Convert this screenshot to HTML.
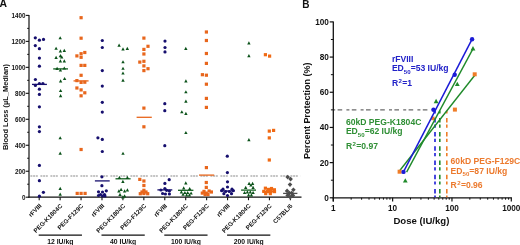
<!DOCTYPE html>
<html><head><meta charset="utf-8"><title>Figure</title><style>
html,body{margin:0;padding:0;background:#fff;}
body{width:520px;height:245px;overflow:hidden;}
svg{display:block;}
#w{will-change:transform;width:520px;height:245px;}
text{font-family:"Liberation Sans", sans-serif;font-weight:bold;}
.ta{font-size:6.3px;fill:#111;}
.tl{font-size:6.2px;fill:#111;}
.tg{font-size:6.8px;fill:#111;}
.yt{font-size:7.45px;fill:#111;}
.pl{font-size:10.4px;fill:#111;}
.tb{font-size:8.2px;fill:#111;}
.xt{font-size:9.0px;fill:#111;}
.xd{font-size:9.6px;fill:#111;}
.an{font-size:8.6px;}
.sub{font-size:6.1px;}
</style></head>
<body><div id="w"><svg width="520" height="245" viewBox="0 0 520 245">
<rect width="520" height="245" fill="#fff"/>
<line x1="29.0" y1="14.90" x2="29.0" y2="197.70" stroke="#111" stroke-width="1.2"/>
<line x1="28.4" y1="197.2" x2="301.5" y2="197.2" stroke="#111" stroke-width="1.2"/>
<line x1="25.8" y1="197.20" x2="29.0" y2="197.20" stroke="#111" stroke-width="1.1"/>
<text x="25.6" y="199.90" class="ta" text-anchor="end">0</text>
<line x1="27.2" y1="184.21" x2="29.0" y2="184.21" stroke="#111" stroke-width="1.0"/>
<line x1="25.8" y1="171.23" x2="29.0" y2="171.23" stroke="#111" stroke-width="1.1"/>
<text x="25.6" y="173.93" class="ta" text-anchor="end">200</text>
<line x1="27.2" y1="158.24" x2="29.0" y2="158.24" stroke="#111" stroke-width="1.0"/>
<line x1="25.8" y1="145.26" x2="29.0" y2="145.26" stroke="#111" stroke-width="1.1"/>
<text x="25.6" y="147.96" class="ta" text-anchor="end">400</text>
<line x1="27.2" y1="132.27" x2="29.0" y2="132.27" stroke="#111" stroke-width="1.0"/>
<line x1="25.8" y1="119.29" x2="29.0" y2="119.29" stroke="#111" stroke-width="1.1"/>
<text x="25.6" y="121.99" class="ta" text-anchor="end">600</text>
<line x1="27.2" y1="106.30" x2="29.0" y2="106.30" stroke="#111" stroke-width="1.0"/>
<line x1="25.8" y1="93.31" x2="29.0" y2="93.31" stroke="#111" stroke-width="1.1"/>
<text x="25.6" y="96.01" class="ta" text-anchor="end">800</text>
<line x1="27.2" y1="80.33" x2="29.0" y2="80.33" stroke="#111" stroke-width="1.0"/>
<line x1="25.8" y1="67.34" x2="29.0" y2="67.34" stroke="#111" stroke-width="1.1"/>
<text x="25.6" y="70.04" class="ta" text-anchor="end">1000</text>
<line x1="27.2" y1="54.36" x2="29.0" y2="54.36" stroke="#111" stroke-width="1.0"/>
<line x1="25.8" y1="41.37" x2="29.0" y2="41.37" stroke="#111" stroke-width="1.1"/>
<text x="25.6" y="44.07" class="ta" text-anchor="end">1200</text>
<line x1="27.2" y1="28.39" x2="29.0" y2="28.39" stroke="#111" stroke-width="1.0"/>
<line x1="25.8" y1="15.40" x2="29.0" y2="15.40" stroke="#111" stroke-width="1.1"/>
<text x="25.6" y="18.10" class="ta" text-anchor="end">1400</text>
<line x1="39.20" y1="197.2" x2="39.20" y2="200.2" stroke="#111" stroke-width="1.1"/>
<line x1="60.13" y1="197.2" x2="60.13" y2="200.2" stroke="#111" stroke-width="1.1"/>
<line x1="81.06" y1="197.2" x2="81.06" y2="200.2" stroke="#111" stroke-width="1.1"/>
<line x1="101.99" y1="197.2" x2="101.99" y2="200.2" stroke="#111" stroke-width="1.1"/>
<line x1="122.92" y1="197.2" x2="122.92" y2="200.2" stroke="#111" stroke-width="1.1"/>
<line x1="143.85" y1="197.2" x2="143.85" y2="200.2" stroke="#111" stroke-width="1.1"/>
<line x1="164.78" y1="197.2" x2="164.78" y2="200.2" stroke="#111" stroke-width="1.1"/>
<line x1="185.71" y1="197.2" x2="185.71" y2="200.2" stroke="#111" stroke-width="1.1"/>
<line x1="206.64" y1="197.2" x2="206.64" y2="200.2" stroke="#111" stroke-width="1.1"/>
<line x1="227.57" y1="197.2" x2="227.57" y2="200.2" stroke="#111" stroke-width="1.1"/>
<line x1="248.50" y1="197.2" x2="248.50" y2="200.2" stroke="#111" stroke-width="1.1"/>
<line x1="269.43" y1="197.2" x2="269.43" y2="200.2" stroke="#111" stroke-width="1.1"/>
<line x1="290.36" y1="197.2" x2="290.36" y2="200.2" stroke="#111" stroke-width="1.1"/>
<line x1="30.4" y1="176.0" x2="300.5" y2="176.0" stroke="#8a8a8a" stroke-width="1.1" stroke-dasharray="2 0.7 2 0.7 2 2.6"/>
<line x1="32.00" y1="84.40" x2="46.90" y2="84.40" stroke="#160f6e" stroke-width="1.3"/>
<circle cx="35.30" cy="37.80" r="1.6" fill="#160f6e"/>
<circle cx="39.40" cy="40.20" r="1.6" fill="#160f6e"/>
<circle cx="43.50" cy="39.40" r="1.6" fill="#160f6e"/>
<circle cx="35.30" cy="45.60" r="1.6" fill="#160f6e"/>
<circle cx="39.40" cy="48.70" r="1.6" fill="#160f6e"/>
<circle cx="39.40" cy="58.10" r="1.6" fill="#160f6e"/>
<circle cx="39.40" cy="66.20" r="1.6" fill="#160f6e"/>
<circle cx="35.40" cy="79.50" r="1.6" fill="#160f6e"/>
<circle cx="35.40" cy="85.40" r="1.6" fill="#160f6e"/>
<circle cx="39.40" cy="83.50" r="1.6" fill="#160f6e"/>
<circle cx="42.90" cy="83.50" r="1.6" fill="#160f6e"/>
<circle cx="39.40" cy="89.20" r="1.6" fill="#160f6e"/>
<circle cx="39.40" cy="94.40" r="1.6" fill="#160f6e"/>
<circle cx="39.40" cy="106.80" r="1.6" fill="#160f6e"/>
<circle cx="39.40" cy="126.80" r="1.6" fill="#160f6e"/>
<circle cx="39.40" cy="131.60" r="1.6" fill="#160f6e"/>
<circle cx="39.40" cy="165.40" r="1.6" fill="#160f6e"/>
<circle cx="39.40" cy="180.70" r="1.6" fill="#160f6e"/>
<circle cx="43.40" cy="192.30" r="1.6" fill="#160f6e"/>
<circle cx="39.40" cy="196.20" r="1.6" fill="#160f6e"/>
<line x1="53.20" y1="68.90" x2="68.00" y2="68.90" stroke="#12601f" stroke-width="1.3"/>
<path d="M60.20 36.17L61.90 39.30L58.50 39.30Z" fill="#0b521a"/>
<path d="M56.10 46.67L57.80 49.80L54.40 49.80Z" fill="#0b521a"/>
<path d="M60.40 49.27L62.10 52.40L58.70 52.40Z" fill="#0b521a"/>
<path d="M64.30 48.87L66.00 52.00L62.60 52.00Z" fill="#0b521a"/>
<path d="M56.10 55.77L57.80 58.90L54.40 58.90Z" fill="#0b521a"/>
<path d="M60.40 54.07L62.10 57.20L58.70 57.20Z" fill="#0b521a"/>
<path d="M61.70 55.37L63.40 58.50L60.00 58.50Z" fill="#0b521a"/>
<path d="M60.40 59.27L62.10 62.40L58.70 62.40Z" fill="#0b521a"/>
<path d="M64.30 59.27L66.00 62.40L62.60 62.40Z" fill="#0b521a"/>
<path d="M57.10 66.87L58.80 70.00L55.40 70.00Z" fill="#0b521a"/>
<path d="M60.40 68.47L62.10 71.60L58.70 71.60Z" fill="#0b521a"/>
<path d="M64.30 66.47L66.00 69.60L62.60 69.60Z" fill="#0b521a"/>
<path d="M60.60 79.27L62.30 82.40L58.90 82.40Z" fill="#0b521a"/>
<path d="M64.60 76.97L66.30 80.10L62.90 80.10Z" fill="#0b521a"/>
<path d="M60.60 88.97L62.30 92.10L58.90 92.10Z" fill="#0b521a"/>
<path d="M60.60 94.07L62.30 97.20L58.90 97.20Z" fill="#0b521a"/>
<path d="M60.20 136.17L61.90 139.30L58.50 139.30Z" fill="#0b521a"/>
<path d="M60.20 151.57L61.90 154.70L58.50 154.70Z" fill="#0b521a"/>
<path d="M60.20 186.87L61.90 190.00L58.50 190.00Z" fill="#0b521a"/>
<path d="M60.20 192.57L61.90 195.70L58.50 195.70Z" fill="#0b521a"/>
<line x1="73.50" y1="80.90" x2="88.60" y2="80.90" stroke="#e8661c" stroke-width="1.3"/>
<rect x="79.50" y="16.10" width="3.2" height="3.2" fill="#e8661c"/>
<rect x="79.50" y="36.60" width="3.2" height="3.2" fill="#e8661c"/>
<rect x="83.20" y="50.90" width="3.2" height="3.2" fill="#e8661c"/>
<rect x="79.50" y="52.10" width="3.2" height="3.2" fill="#e8661c"/>
<rect x="75.30" y="54.30" width="3.2" height="3.2" fill="#e8661c"/>
<rect x="79.50" y="55.70" width="3.2" height="3.2" fill="#e8661c"/>
<rect x="79.50" y="63.80" width="3.2" height="3.2" fill="#e8661c"/>
<rect x="83.20" y="63.80" width="3.2" height="3.2" fill="#e8661c"/>
<rect x="79.50" y="73.70" width="3.2" height="3.2" fill="#e8661c"/>
<rect x="75.30" y="79.00" width="3.2" height="3.2" fill="#e8661c"/>
<rect x="79.50" y="80.80" width="3.2" height="3.2" fill="#e8661c"/>
<rect x="83.20" y="80.60" width="3.2" height="3.2" fill="#e8661c"/>
<rect x="75.30" y="86.40" width="3.2" height="3.2" fill="#e8661c"/>
<rect x="79.50" y="88.30" width="3.2" height="3.2" fill="#e8661c"/>
<rect x="83.20" y="91.20" width="3.2" height="3.2" fill="#e8661c"/>
<rect x="79.50" y="94.20" width="3.2" height="3.2" fill="#e8661c"/>
<rect x="79.50" y="147.90" width="3.2" height="3.2" fill="#e8661c"/>
<rect x="75.60" y="191.80" width="3.2" height="3.2" fill="#e8661c"/>
<rect x="79.50" y="191.80" width="3.2" height="3.2" fill="#e8661c"/>
<rect x="83.50" y="191.80" width="3.2" height="3.2" fill="#e8661c"/>
<line x1="94.90" y1="180.90" x2="109.70" y2="180.90" stroke="#160f6e" stroke-width="1.3"/>
<circle cx="102.30" cy="40.50" r="1.6" fill="#160f6e"/>
<circle cx="102.30" cy="47.50" r="1.6" fill="#160f6e"/>
<circle cx="102.30" cy="70.60" r="1.6" fill="#160f6e"/>
<circle cx="102.30" cy="86.10" r="1.6" fill="#160f6e"/>
<circle cx="102.30" cy="102.30" r="1.6" fill="#160f6e"/>
<circle cx="102.30" cy="112.10" r="1.6" fill="#160f6e"/>
<circle cx="97.90" cy="137.80" r="1.6" fill="#160f6e"/>
<circle cx="102.30" cy="139.40" r="1.6" fill="#160f6e"/>
<circle cx="102.30" cy="151.50" r="1.6" fill="#160f6e"/>
<circle cx="101.90" cy="176.80" r="1.6" fill="#160f6e"/>
<circle cx="101.90" cy="185.70" r="1.6" fill="#160f6e"/>
<circle cx="98.50" cy="191.80" r="1.6" fill="#160f6e"/>
<circle cx="100.50" cy="194.50" r="1.6" fill="#160f6e"/>
<circle cx="102.50" cy="192.00" r="1.6" fill="#160f6e"/>
<circle cx="104.50" cy="194.50" r="1.6" fill="#160f6e"/>
<circle cx="106.30" cy="190.80" r="1.6" fill="#160f6e"/>
<circle cx="98.50" cy="195.50" r="1.6" fill="#160f6e"/>
<circle cx="102.50" cy="196.00" r="1.6" fill="#160f6e"/>
<circle cx="105.00" cy="196.00" r="1.6" fill="#160f6e"/>
<line x1="115.50" y1="178.80" x2="130.60" y2="178.80" stroke="#12601f" stroke-width="1.3"/>
<path d="M119.10 43.57L120.80 46.70L117.40 46.70Z" fill="#0b521a"/>
<path d="M123.00 47.27L124.70 50.40L121.30 50.40Z" fill="#0b521a"/>
<path d="M127.30 46.87L129.00 50.00L125.60 50.00Z" fill="#0b521a"/>
<path d="M123.00 60.17L124.70 63.30L121.30 63.30Z" fill="#0b521a"/>
<path d="M123.00 66.67L124.70 69.80L121.30 69.80Z" fill="#0b521a"/>
<path d="M123.00 71.47L124.70 74.60L121.30 74.60Z" fill="#0b521a"/>
<path d="M123.00 78.57L124.70 81.70L121.30 81.70Z" fill="#0b521a"/>
<path d="M123.00 151.67L124.70 154.80L121.30 154.80Z" fill="#0b521a"/>
<path d="M119.40 175.87L121.10 179.00L117.70 179.00Z" fill="#0b521a"/>
<path d="M127.40 175.87L129.10 179.00L125.70 179.00Z" fill="#0b521a"/>
<path d="M122.90 179.87L124.60 183.00L121.20 183.00Z" fill="#0b521a"/>
<path d="M118.90 189.27L120.60 192.40L117.20 192.40Z" fill="#0b521a"/>
<path d="M121.10 187.87L122.80 191.00L119.40 191.00Z" fill="#0b521a"/>
<path d="M124.60 189.37L126.30 192.50L122.90 192.50Z" fill="#0b521a"/>
<path d="M127.40 188.37L129.10 191.50L125.70 191.50Z" fill="#0b521a"/>
<path d="M120.00 192.87L121.70 196.00L118.30 196.00Z" fill="#0b521a"/>
<path d="M124.60 194.37L126.30 197.50L122.90 197.50Z" fill="#0b521a"/>
<path d="M122.90 195.37L124.60 198.50L121.20 198.50Z" fill="#0b521a"/>
<line x1="136.60" y1="117.30" x2="151.80" y2="117.30" stroke="#e8661c" stroke-width="1.3"/>
<rect x="142.30" y="36.50" width="3.2" height="3.2" fill="#e8661c"/>
<rect x="146.40" y="44.70" width="3.2" height="3.2" fill="#e8661c"/>
<rect x="142.30" y="47.80" width="3.2" height="3.2" fill="#e8661c"/>
<rect x="142.30" y="52.40" width="3.2" height="3.2" fill="#e8661c"/>
<rect x="138.20" y="60.50" width="3.2" height="3.2" fill="#e8661c"/>
<rect x="142.30" y="59.70" width="3.2" height="3.2" fill="#e8661c"/>
<rect x="142.30" y="64.30" width="3.2" height="3.2" fill="#e8661c"/>
<rect x="146.40" y="67.10" width="3.2" height="3.2" fill="#e8661c"/>
<rect x="142.30" y="69.00" width="3.2" height="3.2" fill="#e8661c"/>
<rect x="142.30" y="106.50" width="3.2" height="3.2" fill="#e8661c"/>
<rect x="142.30" y="125.20" width="3.2" height="3.2" fill="#e8661c"/>
<rect x="138.20" y="177.80" width="3.2" height="3.2" fill="#e8661c"/>
<rect x="142.30" y="179.40" width="3.2" height="3.2" fill="#e8661c"/>
<rect x="142.30" y="183.90" width="3.2" height="3.2" fill="#e8661c"/>
<rect x="142.30" y="188.70" width="3.2" height="3.2" fill="#e8661c"/>
<rect x="140.40" y="190.40" width="3.2" height="3.2" fill="#e8661c"/>
<rect x="144.40" y="190.40" width="3.2" height="3.2" fill="#e8661c"/>
<rect x="138.70" y="192.10" width="3.2" height="3.2" fill="#e8661c"/>
<rect x="146.10" y="192.10" width="3.2" height="3.2" fill="#e8661c"/>
<rect x="142.30" y="191.90" width="3.2" height="3.2" fill="#e8661c"/>
<line x1="157.40" y1="189.90" x2="172.30" y2="189.90" stroke="#160f6e" stroke-width="1.3"/>
<circle cx="165.00" cy="41.10" r="1.6" fill="#160f6e"/>
<circle cx="165.00" cy="47.50" r="1.6" fill="#160f6e"/>
<circle cx="165.00" cy="51.90" r="1.6" fill="#160f6e"/>
<circle cx="164.80" cy="103.70" r="1.6" fill="#160f6e"/>
<circle cx="164.80" cy="110.70" r="1.6" fill="#160f6e"/>
<circle cx="164.80" cy="145.70" r="1.6" fill="#160f6e"/>
<circle cx="169.20" cy="179.70" r="1.6" fill="#160f6e"/>
<circle cx="164.90" cy="183.40" r="1.6" fill="#160f6e"/>
<circle cx="164.90" cy="188.60" r="1.6" fill="#160f6e"/>
<circle cx="160.90" cy="190.00" r="1.6" fill="#160f6e"/>
<circle cx="166.60" cy="190.30" r="1.6" fill="#160f6e"/>
<circle cx="169.40" cy="191.00" r="1.6" fill="#160f6e"/>
<circle cx="162.60" cy="193.50" r="1.6" fill="#160f6e"/>
<circle cx="165.40" cy="194.00" r="1.6" fill="#160f6e"/>
<circle cx="169.40" cy="194.00" r="1.6" fill="#160f6e"/>
<line x1="178.00" y1="190.30" x2="193.40" y2="190.30" stroke="#12601f" stroke-width="1.3"/>
<path d="M185.80 46.87L187.50 50.00L184.10 50.00Z" fill="#0b521a"/>
<path d="M185.90 79.27L187.60 82.40L184.20 82.40Z" fill="#0b521a"/>
<path d="M185.90 90.17L187.60 93.30L184.20 93.30Z" fill="#0b521a"/>
<path d="M185.90 99.57L187.60 102.70L184.20 102.70Z" fill="#0b521a"/>
<path d="M181.80 110.17L183.50 113.30L180.10 113.30Z" fill="#0b521a"/>
<path d="M185.90 111.87L187.60 115.00L184.20 115.00Z" fill="#0b521a"/>
<path d="M185.90 130.97L187.60 134.10L184.20 134.10Z" fill="#0b521a"/>
<path d="M185.80 181.27L187.50 184.40L184.10 184.40Z" fill="#0b521a"/>
<path d="M183.70 186.37L185.40 189.50L182.00 189.50Z" fill="#0b521a"/>
<path d="M189.70 186.97L191.40 190.10L188.00 190.10Z" fill="#0b521a"/>
<path d="M181.40 190.37L183.10 193.50L179.70 193.50Z" fill="#0b521a"/>
<path d="M184.90 190.97L186.60 194.10L183.20 194.10Z" fill="#0b521a"/>
<path d="M187.70 190.97L189.40 194.10L186.00 194.10Z" fill="#0b521a"/>
<path d="M191.10 191.47L192.80 194.60L189.40 194.60Z" fill="#0b521a"/>
<path d="M183.10 192.67L184.80 195.80L181.40 195.80Z" fill="#0b521a"/>
<path d="M186.60 193.27L188.30 196.40L184.90 196.40Z" fill="#0b521a"/>
<path d="M189.40 193.27L191.10 196.40L187.70 196.40Z" fill="#0b521a"/>
<line x1="199.00" y1="175.10" x2="214.20" y2="175.10" stroke="#e8661c" stroke-width="1.3"/>
<rect x="204.80" y="30.40" width="3.2" height="3.2" fill="#e8661c"/>
<rect x="204.80" y="38.90" width="3.2" height="3.2" fill="#e8661c"/>
<rect x="204.80" y="51.90" width="3.2" height="3.2" fill="#e8661c"/>
<rect x="204.80" y="61.80" width="3.2" height="3.2" fill="#e8661c"/>
<rect x="200.80" y="73.10" width="3.2" height="3.2" fill="#e8661c"/>
<rect x="204.80" y="73.60" width="3.2" height="3.2" fill="#e8661c"/>
<rect x="204.80" y="82.60" width="3.2" height="3.2" fill="#e8661c"/>
<rect x="204.80" y="96.80" width="3.2" height="3.2" fill="#e8661c"/>
<rect x="204.80" y="105.80" width="3.2" height="3.2" fill="#e8661c"/>
<rect x="204.80" y="166.00" width="3.2" height="3.2" fill="#e8661c"/>
<rect x="204.70" y="180.90" width="3.2" height="3.2" fill="#e8661c"/>
<rect x="204.70" y="185.80" width="3.2" height="3.2" fill="#e8661c"/>
<rect x="202.40" y="189.80" width="3.2" height="3.2" fill="#e8661c"/>
<rect x="207.50" y="189.40" width="3.2" height="3.2" fill="#e8661c"/>
<rect x="200.70" y="191.50" width="3.2" height="3.2" fill="#e8661c"/>
<rect x="209.80" y="190.40" width="3.2" height="3.2" fill="#e8661c"/>
<rect x="204.70" y="191.50" width="3.2" height="3.2" fill="#e8661c"/>
<rect x="203.50" y="192.90" width="3.2" height="3.2" fill="#e8661c"/>
<rect x="206.40" y="192.90" width="3.2" height="3.2" fill="#e8661c"/>
<line x1="220.70" y1="191.00" x2="234.60" y2="191.00" stroke="#160f6e" stroke-width="1.3"/>
<circle cx="227.30" cy="156.20" r="1.6" fill="#160f6e"/>
<circle cx="227.40" cy="172.60" r="1.6" fill="#160f6e"/>
<circle cx="227.50" cy="181.80" r="1.6" fill="#160f6e"/>
<circle cx="227.50" cy="187.00" r="1.6" fill="#160f6e"/>
<circle cx="223.00" cy="189.20" r="1.6" fill="#160f6e"/>
<circle cx="232.00" cy="189.20" r="1.6" fill="#160f6e"/>
<circle cx="221.60" cy="190.60" r="1.6" fill="#160f6e"/>
<circle cx="233.30" cy="190.60" r="1.6" fill="#160f6e"/>
<circle cx="225.70" cy="191.50" r="1.6" fill="#160f6e"/>
<circle cx="229.30" cy="191.50" r="1.6" fill="#160f6e"/>
<circle cx="223.90" cy="193.70" r="1.6" fill="#160f6e"/>
<circle cx="231.50" cy="193.70" r="1.6" fill="#160f6e"/>
<circle cx="227.50" cy="195.50" r="1.6" fill="#160f6e"/>
<line x1="241.10" y1="190.10" x2="256.00" y2="190.10" stroke="#12601f" stroke-width="1.3"/>
<path d="M248.90 41.27L250.60 44.40L247.20 44.40Z" fill="#0b521a"/>
<path d="M248.90 54.07L250.60 57.20L247.20 57.20Z" fill="#0b521a"/>
<path d="M248.90 138.07L250.60 141.20L247.20 141.20Z" fill="#0b521a"/>
<path d="M249.10 181.77L250.80 184.90L247.40 184.90Z" fill="#0b521a"/>
<path d="M252.60 181.77L254.30 184.90L250.90 184.90Z" fill="#0b521a"/>
<path d="M250.90 183.47L252.60 186.60L249.20 186.60Z" fill="#0b521a"/>
<path d="M245.70 185.77L247.40 188.90L244.00 188.90Z" fill="#0b521a"/>
<path d="M253.10 185.77L254.80 188.90L251.40 188.90Z" fill="#0b521a"/>
<path d="M244.60 190.97L246.30 194.10L242.90 194.10Z" fill="#0b521a"/>
<path d="M247.40 190.37L249.10 193.50L245.70 193.50Z" fill="#0b521a"/>
<path d="M250.30 190.37L252.00 193.50L248.60 193.50Z" fill="#0b521a"/>
<path d="M253.10 190.97L254.80 194.10L251.40 194.10Z" fill="#0b521a"/>
<path d="M248.60 193.37L250.30 196.50L246.90 196.50Z" fill="#0b521a"/>
<path d="M251.40 193.37L253.10 196.50L249.70 196.50Z" fill="#0b521a"/>
<line x1="262.50" y1="191.40" x2="276.00" y2="191.40" stroke="#e8661c" stroke-width="1.3"/>
<rect x="263.80" y="53.10" width="3.2" height="3.2" fill="#f06a14"/>
<rect x="268.00" y="54.50" width="3.2" height="3.2" fill="#f06a14"/>
<rect x="267.70" y="129.50" width="3.2" height="3.2" fill="#f06a14"/>
<rect x="272.00" y="128.80" width="3.2" height="3.2" fill="#f06a14"/>
<rect x="267.70" y="136.30" width="3.2" height="3.2" fill="#f06a14"/>
<rect x="267.70" y="158.40" width="3.2" height="3.2" fill="#f06a14"/>
<rect x="263.80" y="186.60" width="3.2" height="3.2" fill="#f06a14"/>
<rect x="267.00" y="187.80" width="3.2" height="3.2" fill="#f06a14"/>
<rect x="269.90" y="186.90" width="3.2" height="3.2" fill="#f06a14"/>
<rect x="272.80" y="188.20" width="3.2" height="3.2" fill="#f06a14"/>
<rect x="262.20" y="189.80" width="3.2" height="3.2" fill="#f06a14"/>
<rect x="265.90" y="190.00" width="3.2" height="3.2" fill="#f06a14"/>
<rect x="269.40" y="190.00" width="3.2" height="3.2" fill="#f06a14"/>
<rect x="272.90" y="190.00" width="3.2" height="3.2" fill="#f06a14"/>
<rect x="264.10" y="192.00" width="3.2" height="3.2" fill="#f06a14"/>
<rect x="268.70" y="192.00" width="3.2" height="3.2" fill="#f06a14"/>
<path d="M287.70 174.80L290.00 177.10L287.70 179.40L285.40 177.10Z" fill="#4d4d4d"/>
<path d="M290.60 176.80L292.90 179.10L290.60 181.40L288.30 179.10Z" fill="#4d4d4d"/>
<path d="M290.00 182.30L292.30 184.60L290.00 186.90L287.70 184.60Z" fill="#4d4d4d"/>
<path d="M287.10 188.60L289.40 190.90L287.10 193.20L284.80 190.90Z" fill="#4d4d4d"/>
<path d="M293.40 187.40L295.70 189.70L293.40 192.00L291.10 189.70Z" fill="#4d4d4d"/>
<path d="M289.40 190.80L291.70 193.10L289.40 195.40L287.10 193.10Z" fill="#4d4d4d"/>
<path d="M291.70 190.80L294.00 193.10L291.70 195.40L289.40 193.10Z" fill="#4d4d4d"/>
<path d="M287.70 193.10L290.00 195.40L287.70 197.70L285.40 195.40Z" fill="#4d4d4d"/>
<path d="M292.90 193.10L295.20 195.40L292.90 197.70L290.60 195.40Z" fill="#4d4d4d"/>
<path d="M290.30 194.80L292.60 197.10L290.30 199.40L288.00 197.10Z" fill="#4d4d4d"/>
<line x1="283.10" y1="193.40" x2="297.40" y2="193.40" stroke="#4d4d4d" stroke-width="1.3"/>
<text x="41.90" y="206.40" class="tl" text-anchor="end" transform="rotate(-45 41.90 206.40)">rFVIII</text>
<text x="62.83" y="206.40" class="tl" text-anchor="end" transform="rotate(-45 62.83 206.40)">PEG-K1804C</text>
<text x="83.76" y="206.40" class="tl" text-anchor="end" transform="rotate(-45 83.76 206.40)">PEG-F129C</text>
<text x="104.69" y="206.40" class="tl" text-anchor="end" transform="rotate(-45 104.69 206.40)">rFVIII</text>
<text x="125.62" y="206.40" class="tl" text-anchor="end" transform="rotate(-45 125.62 206.40)">PEG-K1804C</text>
<text x="146.55" y="206.40" class="tl" text-anchor="end" transform="rotate(-45 146.55 206.40)">PEG-F129C</text>
<text x="167.48" y="206.40" class="tl" text-anchor="end" transform="rotate(-45 167.48 206.40)">rFVIII</text>
<text x="188.41" y="206.40" class="tl" text-anchor="end" transform="rotate(-45 188.41 206.40)">PEG-K1804C</text>
<text x="209.34" y="206.40" class="tl" text-anchor="end" transform="rotate(-45 209.34 206.40)">PEG-F129C</text>
<text x="230.27" y="206.40" class="tl" text-anchor="end" transform="rotate(-45 230.27 206.40)">rFVIII</text>
<text x="251.20" y="206.40" class="tl" text-anchor="end" transform="rotate(-45 251.20 206.40)">PEG-K1804C</text>
<text x="272.13" y="206.40" class="tl" text-anchor="end" transform="rotate(-45 272.13 206.40)">PEG-F129C</text>
<text x="293.06" y="206.40" class="tl" text-anchor="end" transform="rotate(-45 293.06 206.40)">C57BL/6</text>
<line x1="38.70" y1="235.1" x2="81.96" y2="235.1" stroke="#111" stroke-width="1.1"/>
<text x="60.33" y="243.6" class="tg" text-anchor="middle">12 IU/kg</text>
<line x1="101.49" y1="235.1" x2="144.75" y2="235.1" stroke="#111" stroke-width="1.1"/>
<text x="123.12" y="243.6" class="tg" text-anchor="middle">40 IU/kg</text>
<line x1="164.28" y1="235.1" x2="207.54" y2="235.1" stroke="#111" stroke-width="1.1"/>
<text x="185.91" y="243.6" class="tg" text-anchor="middle">100 IU/kg</text>
<line x1="227.07" y1="235.1" x2="270.33" y2="235.1" stroke="#111" stroke-width="1.1"/>
<text x="248.70" y="243.6" class="tg" text-anchor="middle">200 IU/kg</text>
<text x="0" y="0" class="yt" text-anchor="middle" transform="translate(7.6 107.0) rotate(-90)">Blood Loss (&#181;L_Median)</text>
<text x="-0.4" y="6.8" class="pl">A</text>
<line x1="333.3" y1="21.40" x2="333.3" y2="201.40" stroke="#111" stroke-width="1.3"/>
<line x1="332.7" y1="197.8" x2="511.90" y2="197.8" stroke="#111" stroke-width="1.3"/>
<line x1="329.7" y1="197.80" x2="333.3" y2="197.80" stroke="#111" stroke-width="1.2"/>
<text x="328.90000000000003" y="200.70" class="tb" text-anchor="end">0</text>
<line x1="330.90000000000003" y1="180.21" x2="333.3" y2="180.21" stroke="#111" stroke-width="1.0"/>
<line x1="329.7" y1="162.62" x2="333.3" y2="162.62" stroke="#111" stroke-width="1.2"/>
<text x="328.90000000000003" y="165.52" class="tb" text-anchor="end">20</text>
<line x1="330.90000000000003" y1="145.03" x2="333.3" y2="145.03" stroke="#111" stroke-width="1.0"/>
<line x1="329.7" y1="127.44" x2="333.3" y2="127.44" stroke="#111" stroke-width="1.2"/>
<text x="328.90000000000003" y="130.34" class="tb" text-anchor="end">40</text>
<line x1="330.90000000000003" y1="109.85" x2="333.3" y2="109.85" stroke="#111" stroke-width="1.0"/>
<line x1="329.7" y1="92.26" x2="333.3" y2="92.26" stroke="#111" stroke-width="1.2"/>
<text x="328.90000000000003" y="95.16" class="tb" text-anchor="end">60</text>
<line x1="330.90000000000003" y1="74.67" x2="333.3" y2="74.67" stroke="#111" stroke-width="1.0"/>
<line x1="329.7" y1="57.08" x2="333.3" y2="57.08" stroke="#111" stroke-width="1.2"/>
<text x="328.90000000000003" y="59.98" class="tb" text-anchor="end">80</text>
<line x1="330.90000000000003" y1="39.49" x2="333.3" y2="39.49" stroke="#111" stroke-width="1.0"/>
<line x1="329.7" y1="21.90" x2="333.3" y2="21.90" stroke="#111" stroke-width="1.2"/>
<text x="328.90000000000003" y="24.80" class="tb" text-anchor="end">100</text>
<line x1="351.16" y1="197.8" x2="351.16" y2="199.70" stroke="#111" stroke-width="1.0"/>
<line x1="361.61" y1="197.8" x2="361.61" y2="199.70" stroke="#111" stroke-width="1.0"/>
<line x1="369.02" y1="197.8" x2="369.02" y2="199.70" stroke="#111" stroke-width="1.0"/>
<line x1="374.77" y1="197.8" x2="374.77" y2="199.70" stroke="#111" stroke-width="1.0"/>
<line x1="379.47" y1="197.8" x2="379.47" y2="199.70" stroke="#111" stroke-width="1.0"/>
<line x1="383.44" y1="197.8" x2="383.44" y2="199.70" stroke="#111" stroke-width="1.0"/>
<line x1="386.88" y1="197.8" x2="386.88" y2="199.70" stroke="#111" stroke-width="1.0"/>
<line x1="389.92" y1="197.8" x2="389.92" y2="199.70" stroke="#111" stroke-width="1.0"/>
<line x1="410.49" y1="197.8" x2="410.49" y2="199.70" stroke="#111" stroke-width="1.0"/>
<line x1="420.94" y1="197.8" x2="420.94" y2="199.70" stroke="#111" stroke-width="1.0"/>
<line x1="428.36" y1="197.8" x2="428.36" y2="199.70" stroke="#111" stroke-width="1.0"/>
<line x1="434.11" y1="197.8" x2="434.11" y2="199.70" stroke="#111" stroke-width="1.0"/>
<line x1="438.80" y1="197.8" x2="438.80" y2="199.70" stroke="#111" stroke-width="1.0"/>
<line x1="442.78" y1="197.8" x2="442.78" y2="199.70" stroke="#111" stroke-width="1.0"/>
<line x1="446.22" y1="197.8" x2="446.22" y2="199.70" stroke="#111" stroke-width="1.0"/>
<line x1="449.25" y1="197.8" x2="449.25" y2="199.70" stroke="#111" stroke-width="1.0"/>
<line x1="469.83" y1="197.8" x2="469.83" y2="199.70" stroke="#111" stroke-width="1.0"/>
<line x1="480.28" y1="197.8" x2="480.28" y2="199.70" stroke="#111" stroke-width="1.0"/>
<line x1="487.69" y1="197.8" x2="487.69" y2="199.70" stroke="#111" stroke-width="1.0"/>
<line x1="493.44" y1="197.8" x2="493.44" y2="199.70" stroke="#111" stroke-width="1.0"/>
<line x1="498.14" y1="197.8" x2="498.14" y2="199.70" stroke="#111" stroke-width="1.0"/>
<line x1="502.11" y1="197.8" x2="502.11" y2="199.70" stroke="#111" stroke-width="1.0"/>
<line x1="505.55" y1="197.8" x2="505.55" y2="199.70" stroke="#111" stroke-width="1.0"/>
<line x1="508.59" y1="197.8" x2="508.59" y2="199.70" stroke="#111" stroke-width="1.0"/>
<line x1="333.30" y1="197.8" x2="333.30" y2="201.40" stroke="#111" stroke-width="1.2"/>
<text x="333.30" y="210.6" class="tb" text-anchor="middle">1</text>
<line x1="392.63" y1="197.8" x2="392.63" y2="201.40" stroke="#111" stroke-width="1.2"/>
<text x="392.63" y="210.6" class="tb" text-anchor="middle">10</text>
<line x1="451.97" y1="197.8" x2="451.97" y2="201.40" stroke="#111" stroke-width="1.2"/>
<text x="451.97" y="210.6" class="tb" text-anchor="middle">100</text>
<line x1="511.30" y1="197.8" x2="511.30" y2="201.40" stroke="#111" stroke-width="1.2"/>
<text x="511.30" y="210.6" class="tb" text-anchor="middle">1000</text>
<text x="421.4" y="223.6" class="xd" text-anchor="middle">Dose (IU/kg)</text>
<text x="0" y="0" class="xt" text-anchor="middle" transform="translate(309.6 110.8) rotate(-90)">Percent Protection (%)</text>
<text x="302.2" y="7.8" class="pl" style="font-size:10px">B</text>
<line x1="334" y1="109.85" x2="433" y2="109.85" stroke="#6a6a6a" stroke-width="1.4" stroke-dasharray="4.6 4.2 3.0 2.4" stroke-dashoffset="10.6"/>
<line x1="435.0" y1="197.2" x2="435.0" y2="110.85" stroke="#1b1bd6" stroke-width="1.6" stroke-dasharray="4.5 4.3 3.2 2.2" stroke-dashoffset="10.4"/>
<line x1="439.8" y1="197.2" x2="439.8" y2="110.85" stroke="#1f8a2a" stroke-width="1.6" stroke-dasharray="4.5 4.3 3.2 2.2" stroke-dashoffset="10.4"/>
<line x1="446.8" y1="197.2" x2="446.8" y2="110.85" stroke="#ef7d28" stroke-width="1.6" stroke-dasharray="4.5 4.3 3.2 2.2" stroke-dashoffset="10.4"/>
<rect x="431.2" y="116.6" width="3.4" height="3.6" fill="#ef7d28"/>
<line x1="400.0" y1="170.2" x2="475.0" y2="75.0" stroke="#1f8a2a" stroke-width="1.4"/>
<line x1="406.6" y1="172.2" x2="473.2" y2="48.4" stroke="#1f8a2a" stroke-width="1.4"/>
<line x1="403.5" y1="171.9" x2="472.1" y2="39.2" stroke="#1b1bd6" stroke-width="1.5"/>
<rect x="397.60" y="169.70" width="4" height="4" fill="#ef7d28"/>
<rect x="452.90" y="107.60" width="4" height="4" fill="#ef7d28"/>
<rect x="472.70" y="72.30" width="4" height="4" fill="#ef7d28"/>
<path d="M405.30 178.20L407.70 182.60L402.90 182.60Z" fill="#1f8a2a"/>
<path d="M436.10 98.80L438.50 103.20L433.70 103.20Z" fill="#1f8a2a"/>
<path d="M457.30 81.70L459.70 86.10L454.90 86.10Z" fill="#1f8a2a"/>
<path d="M473.00 46.00L475.40 50.40L470.60 50.40Z" fill="#1f8a2a"/>
<circle cx="403.50" cy="171.90" r="2.2" fill="#1b1bd6"/>
<circle cx="433.50" cy="109.70" r="2.2" fill="#1b1bd6"/>
<circle cx="454.70" cy="74.70" r="2.2" fill="#1b1bd6"/>
<circle cx="472.10" cy="39.20" r="2.2" fill="#1b1bd6"/>
<text x="391.9" y="62.0" class="an" fill="#2222c8">rFVIII</text>
<text x="391.9" y="71.4" class="an" fill="#2222c8">ED<tspan class="sub" dy="2.2">50</tspan><tspan dy="-2.2">=53 IU/kg</tspan></text>
<text x="391.9" y="86.4" class="an" fill="#2222c8">R<tspan class="sub" dx="0.5" dy="-3.6">2</tspan><tspan dx="0.2" dy="3.6">=1</tspan></text>
<text x="345.9" y="124.6" class="an" fill="#2f8f35">60kD PEG-K1804C</text>
<text x="345.9" y="134.3" class="an" fill="#2f8f35">ED<tspan class="sub" dy="2.2">50</tspan><tspan dy="-2.2">=62 IU/kg</tspan></text>
<text x="345.9" y="149.4" class="an" fill="#2f8f35">R<tspan class="sub" dx="0.5" dy="-3.6">2</tspan><tspan dx="0.2" dy="3.6">=0.97</tspan></text>
<text x="450.6" y="164.0" class="an" fill="#ec7a2e">60kD PEG-F129C</text>
<text x="450.6" y="174.2" class="an" fill="#ec7a2e">ED<tspan class="sub" dy="2.2">50</tspan><tspan dy="-2.2">=87 IU/kg</tspan></text>
<text x="450.6" y="188.2" class="an" fill="#ec7a2e">R<tspan class="sub" dx="0.5" dy="-3.6">2</tspan><tspan dx="0.2" dy="3.6">=0.96</tspan></text>
</svg></div></body></html>
